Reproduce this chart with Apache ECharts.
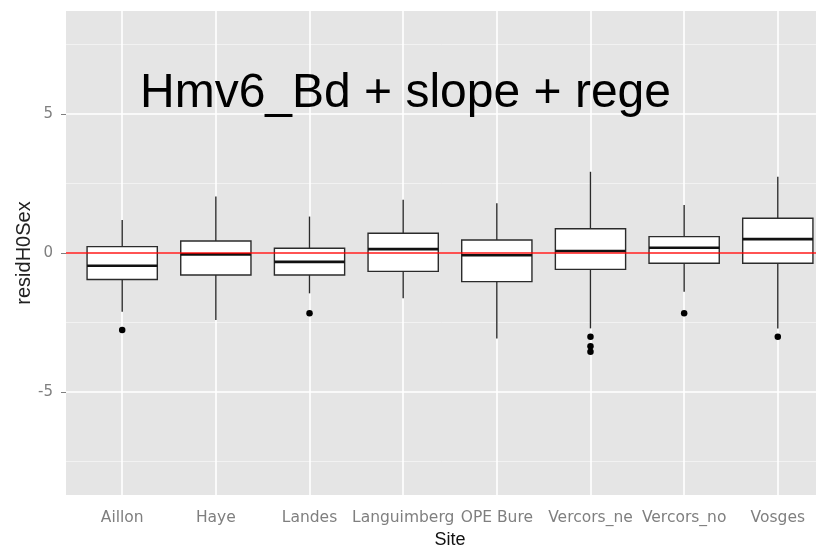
<!DOCTYPE html>
<html>
<head>
<meta charset="utf-8">
<script src="https://cdn.jsdelivr.net/npm/echarts@6/dist/echarts.min.js"></script>
<style>html,body{margin:0;padding:0;background:#fff;}#chart{width:816px;height:547px;}</style>
</head>
<body>
<div id="chart"></div>
<script>
const categories = ['Aillon','Haye','Landes','Languimberg','OPE Bure','Vercors_ne','Vercors_no','Vosges'];
const lowerWhisker = [-2.11,-2.41,-1.45,-1.63,-3.07,-2.71,-1.39,-2.71];
const q1 = [-0.95,-0.79,-0.79,-0.66,-1.03,-0.59,-0.37,-0.37];
const median = [-0.46,-0.05,-0.32,0.14,-0.08,0.07,0.19,0.50];
const q3 = [0.23,0.43,0.17,0.71,0.47,0.87,0.59,1.25];
const upperWhisker = [1.19,2.03,1.31,1.91,1.79,2.92,1.73,2.74];
const outlierSite = ['Aillon','Landes','Vercors_ne','Vercors_ne','Vercors_ne','Vercors_no','Vosges'];
const outlierValue = [-2.77,-2.17,-3.01,-3.35,-3.55,-2.17,-3.01];
const yTicks = [-5,0,5];
const yMinor = [-7.5,-2.5,2.5,7.5];
const refLine = 0;
const titleText = 'Hmv6_Bd + slope + rege';

const pos = categories.map((c,i)=>i+1);
const boxData = categories.map((c,i)=>[pos[i], lowerWhisker[i], q1[i], median[i], q3[i], upperWhisker[i]]);
const outData = outlierSite.map((s,i)=>[categories.indexOf(s)+1, outlierValue[i]]);

const chart = echarts.init(document.getElementById('chart'), null, {renderer:'canvas'});
const edge = '#2b2b2b';
chart.setOption({
  backgroundColor:'#ffffff',
  animation:false,
  grid:{left:66, top:11, width:768, height:484, show:true, backgroundColor:'#E5E5E5', borderWidth:0, containLabel:false, outerBoundsMode:'none'},
  xAxis:{
    type:'value', min:0.4, max:8.6,
    axisLine:{show:false}, splitLine:{show:false},
    axisTick:{show:true, customValues:pos, length:5, lineStyle:{color:'#7f7f7f', width:1}},
    axisLabel:{customValues:pos, formatter:v=>categories[Math.round(v)-1], color:'#7f7f7f', fontFamily:'DejaVu Sans', fontSize:15.5, margin:15},
    name:'Site', nameLocation:'middle', nameGap:36, nameMoveOverlap:false,
    nameTextStyle:{fontFamily:'Liberation Sans', fontSize:18, color:'#111'}
  },
  yAxis:{
    type:'value', min:-8.7, max:8.7,
    axisLine:{show:false}, splitLine:{show:false},
    axisTick:{show:true, customValues:yTicks, length:5, lineStyle:{color:'#7f7f7f', width:1}},
    axisLabel:{customValues:yTicks, color:'#7f7f7f', fontFamily:'DejaVu Sans', fontSize:15, margin:13},
    name:'residH0Sex', nameLocation:'middle', nameGap:32, nameRotate:90, nameMoveOverlap:false,
    nameTextStyle:{fontFamily:'Liberation Sans', fontSize:20, color:'#222'}
  },
  graphic:[{
    type:'text', left:140, top:70, z:100,
    style:{text:titleText, font:'48px "Liberation Sans"', fill:'#000'}
  }],
  series:[
    {
      type:'line', data:[], z:0, silent:true,
      markLine:{
        z:0, silent:true, symbol:'none', animation:false,
        label:{show:false},
        data:[
          ...yMinor.map(v=>({yAxis:v, lineStyle:{color:'#F2F2F2', width:1, type:'solid'}})),
          ...yTicks.map(v=>({yAxis:v, lineStyle:{color:'#FFFFFF', width:1.6, type:'solid'}})),
          ...pos.map(v=>({xAxis:v, lineStyle:{color:'#FFFFFF', width:1.6, type:'solid'}}))
        ]
      }
    },
    {
      type:'custom', z:2, data:boxData,
      encode:{x:0, y:[1,2,3,4,5]},
      renderItem:function(params, api){
        const x = api.value(0);
        const half = api.size([0.75,0])[0]/2;
        const pLow = api.coord([x, api.value(1)]);
        const pQ1 = api.coord([x, api.value(2)]);
        const pMed = api.coord([x, api.value(3)]);
        const pQ3 = api.coord([x, api.value(4)]);
        const pHigh = api.coord([x, api.value(5)]);
        const cx = pQ1[0];
        return {type:'group', children:[
          {type:'line', shape:{x1:cx, y1:pQ3[1], x2:cx, y2:pHigh[1]}, style:{stroke:edge, lineWidth:1.4}},
          {type:'line', shape:{x1:cx, y1:pQ1[1], x2:cx, y2:pLow[1]}, style:{stroke:edge, lineWidth:1.4}},
          {type:'rect', shape:{x:cx-half, y:pQ3[1], width:half*2, height:pQ1[1]-pQ3[1]}, style:{fill:'#fff', stroke:edge, lineWidth:1.4}},
          {type:'line', shape:{x1:cx-half, y1:pMed[1], x2:cx+half, y2:pMed[1]}, style:{stroke:'#111', lineWidth:2.6}}
        ]};
      }
    },
    {
      type:'scatter', z:3, data:outData, symbol:'circle', symbolSize:6.5,
      itemStyle:{color:'#000', opacity:1}
    },
    {
      type:'line', data:[], z:10, silent:true,
      markLine:{z:10, silent:true, symbol:'none', animation:false, label:{show:false},
        data:[{yAxis:refLine, lineStyle:{color:'#ff0000', width:1.5, type:'solid', opacity:0.9}}]}
    }
  ]
});
</script>
</body>
</html>
